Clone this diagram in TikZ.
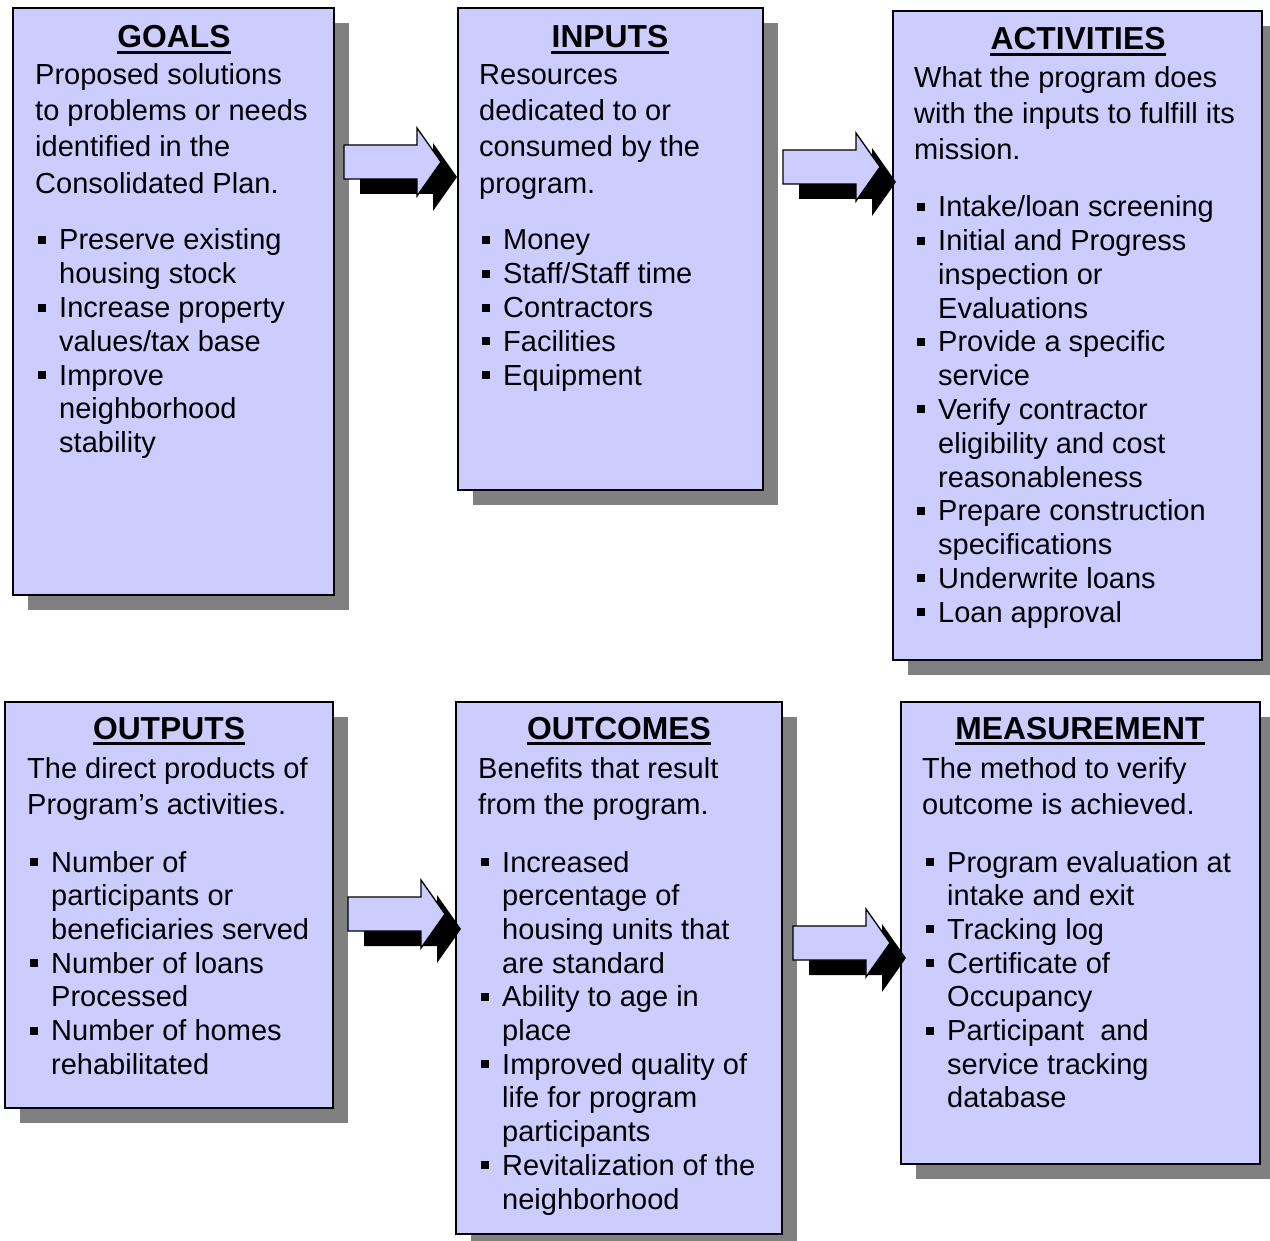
\documentclass[tikz,border=0pt]{standalone}
\usepackage{fontspec}
\setmainfont{Liberation Sans}
\definecolor{boxc}{HTML}{CCCCFF}
\definecolor{shadc}{HTML}{808080}
\tikzset{
  panel/.style={draw=black, line width=2pt, fill=boxc, inner sep=0pt, outer sep=0pt, anchor=north west},
  txt/.style={font=\fontsize{29.0}{35}\selectfont, inner sep=0pt, anchor=base west},
  ttl/.style={font=\fontsize{31.8}{36}\selectfont\bfseries, inner sep=0pt, anchor=base},
  arrowfill/.style={fill=boxc, draw=black, line width=1.3pt, line join=miter},
}
% box: name, x1, y1, x2, y2
\newcommand{\panelbox}[5]{%
  \fill[shadc] (#2+15,#3+15) rectangle (#4+15,#5+15);
  \node[panel, minimum width={(#4-#2)*1pt}, minimum height={(#5-#3)*1pt}] (#1) at (#2,#3) {};
}
% title: name, x, y, text
\newcommand{\paneltitle}[4]{%
  \node[ttl] (#1) at (#2,#3) {#4};
  \draw[line width=2.6pt] ([yshift=-4.5pt]#1.base west) -- ([yshift=-4.5pt]#1.base east);
}
% plain lines: name, x, y0, step, list
\newcommand{\plainlines}[5]{%
  \foreach \t [count=\i] in {#5} {
    \node[txt] (#1-\i) at (#2,{#3+(\i-1)*#4}) {\t};
  }
}
% bullet lines: name, x, y0, step, list of b/{text} or c/{text}
\newcommand{\bulletlines}[5]{%
  \foreach \k/\t [count=\i] in {#5} {
    \node[txt] (#1-\i) at (#2,{#3+(\i-1)*#4}) {\t};
    \if\k b
      \fill ([xshift=-21.5pt,yshift=6pt]#1-\i.base west) rectangle ++(8pt,8pt);
    \fi
  }
}
% block arrow: name, x, y (top-left of shaft)
\newcommand{\blockarrow}[3]{%
  \coordinate (#1) at (#2,#3);
  \fill[black] ([shift={(16pt,-15pt)}]#1) -- ++(73pt,0pt) -- ++(0pt,17pt) -- ++(24pt,-34pt) -- ++(-24pt,-34pt) -- ++(0pt,17pt) -- ++(-73pt,0pt) -- cycle;
  \draw[arrowfill] (#1) -- ++(73pt,0pt) -- ++(0pt,17pt) -- ++(24pt,-34pt) -- ++(-24pt,-34pt) -- ++(0pt,17pt) -- ++(-73pt,0pt) -- cycle;
}
\begin{document}
\begin{tikzpicture}[x=1pt,y=-1pt]
\useasboundingbox (0,0) rectangle (1270,1241);
\clip (0,0) rectangle (1270,1241);
\fill[white] (0,0) rectangle (1270,1241);

% ---------- GOALS ----------
\panelbox{goals}{13}{8}{334}{595}
\paneltitle{goalsT}{174}{48}{GOALS}
\plainlines{goalsD}{35}{84.5}{36.2}{{Proposed solutions},{to problems or needs},{identified in the},{Consolidated Plan.}}
\bulletlines{goalsB}{59}{250}{33.8}{b/{Preserve existing},c/{housing stock},b/{Increase property},c/{values/tax base},b/{Improve},c/{neighborhood},c/{stability}}

% ---------- INPUTS ----------
\panelbox{inputs}{458}{8}{763}{490}
\paneltitle{inputsT}{610}{48}{INPUTS}
\plainlines{inputsD}{479}{84.5}{36.2}{{Resources},{dedicated to or},{consumed by the},{program.}}
\bulletlines{inputsB}{503}{250}{33.8}{b/{Money},b/{Staff/Staff time},b/{Contractors},b/{Facilities},b/{Equipment}}

% ---------- ACTIVITIES ----------
\panelbox{activities}{893}{11}{1262}{660}
\paneltitle{activitiesT}{1078}{50}{ACTIVITIES}
\plainlines{activitiesD}{914}{87.5}{36.2}{{What the program does},{with the inputs to fulfill its},{mission.}}
\bulletlines{activitiesB}{938}{217}{33.75}{b/{Intake/loan screening},b/{Initial and Progress},c/{inspection or},c/{Evaluations},b/{Provide a specific},c/{service},b/{Verify contractor},c/{eligibility and cost},c/{reasonableness},b/{Prepare construction},c/{specifications},b/{Underwrite loans},b/{Loan approval}}

% ---------- OUTPUTS ----------
\panelbox{outputs}{5}{702}{333}{1108}
\paneltitle{outputsT}{169}{739}{OUTPUTS}
\plainlines{outputsD}{27}{778.5}{36}{{The direct products of},{Program’s activities.}}
\bulletlines{outputsB}{51}{872}{33.7}{b/{Number of},c/{participants or},c/{beneficiaries served},b/{Number of loans},c/{Processed},b/{Number of homes},c/{rehabilitated}}

% ---------- OUTCOMES ----------
\panelbox{outcomes}{456}{702}{782}{1234}
\paneltitle{outcomesT}{619}{739}{OUTCOMES}
\plainlines{outcomesD}{478}{778.5}{36}{{Benefits that result},{from the program.}}
\bulletlines{outcomesB}{502}{872}{33.7}{b/{Increased},c/{percentage of},c/{housing units that},c/{are standard},b/{Ability to age in},c/{place},b/{Improved quality of},c/{life for program},c/{participants},b/{Revitalization of the},c/{neighborhood}}

% ---------- MEASUREMENT ----------
\panelbox{measurement}{901}{702}{1260}{1164}
\paneltitle{measurementT}{1080}{739}{MEASUREMENT}
\plainlines{measurementD}{922}{778.5}{36}{{The method to verify},{outcome is achieved.}}
\bulletlines{measurementB}{947}{872}{33.7}{b/{Program evaluation at},c/{intake and exit},b/{Tracking log},b/{Certificate of},c/{Occupancy},b/{Participant \ and},c/{service tracking},c/{database}}

% ---------- ARROWS ----------
\blockarrow{arrA}{344}{145}
\blockarrow{arrB}{783}{150}
\blockarrow{arrC}{348}{897}
\blockarrow{arrD}{793}{926}
\end{tikzpicture}
\end{document}
